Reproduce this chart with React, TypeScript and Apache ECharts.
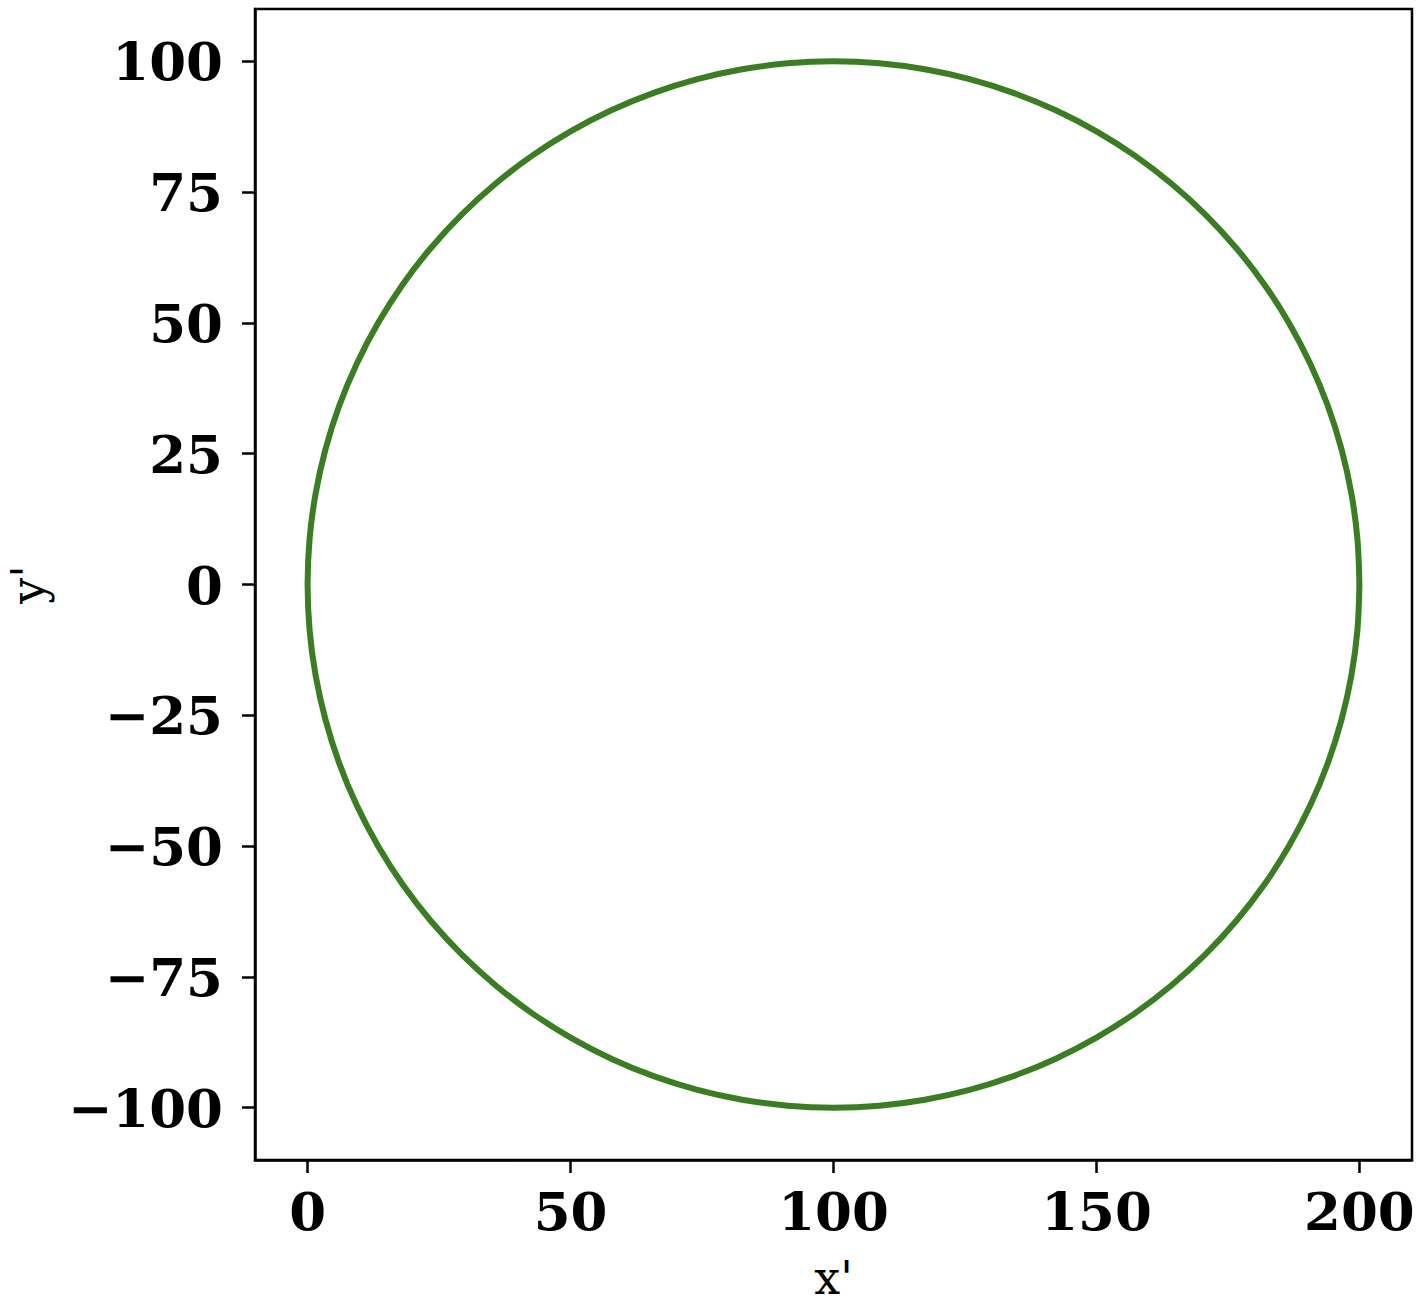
import React, { useEffect, useRef } from "react";
import * as echarts from "echarts";

// Circle trace points (x', y'), 5° apart, counter-clockwise from (200, 0)
const xPrime = [
  200, 199.62, 198.48, 196.59, 193.97, 190.63, 186.6, 181.92, 176.6, 170.71,
  164.28, 157.36, 150, 142.26, 134.2, 125.88, 117.36, 108.72, 100,
  91.28, 82.64, 74.12, 65.8, 57.74, 50, 42.64, 35.72, 29.29,
  23.4, 18.08, 13.4, 9.37, 6.03, 3.41, 1.52, 0.38, 0,
  0.38, 1.52, 3.41, 6.03, 9.37, 13.4, 18.08, 23.4, 29.29,
  35.72, 42.64, 50, 57.74, 65.8, 74.12, 82.64, 91.28, 100,
  108.72, 117.36, 125.88, 134.2, 142.26, 150, 157.36, 164.28, 170.71,
  176.6, 181.92, 186.6, 190.63, 193.97, 196.59, 198.48, 199.62, 200,
];
const yPrime = [
  0, 8.72, 17.36, 25.88, 34.2, 42.26, 50, 57.36, 64.28, 70.71,
  76.6, 81.92, 86.6, 90.63, 93.97, 96.59, 98.48, 99.62, 100,
  99.62, 98.48, 96.59, 93.97, 90.63, 86.6, 81.92, 76.6, 70.71,
  64.28, 57.36, 50, 42.26, 34.2, 25.88, 17.36, 8.72, 0,
  -8.72, -17.36, -25.88, -34.2, -42.26, -50, -57.36, -64.28, -70.71,
  -76.6, -81.92, -86.6, -90.63, -93.97, -96.59, -98.48, -99.62, -100,
  -99.62, -98.48, -96.59, -93.97, -90.63, -86.6, -81.92, -76.6, -70.71,
  -64.28, -57.36, -50, -42.26, -34.2, -25.88, -17.36, -8.72, 0,
];

const xTicks = [0, 50, 100, 150, 200];
const yTicks = [-100, -75, -50, -25, 0, 25, 50, 75, 100];
const xName = "x'";
const yName = "y'";

const fmt = (v: number) => (v < 0 ? "\u2212" + Math.abs(v) : String(v));

export default function App() {
  const ref = useRef<HTMLDivElement>(null);
  useEffect(() => {
    const chart = echarts.init(ref.current!, null, { renderer: "svg" });
    const data = xPrime.map((x, i) => [x, yPrime[i]]);
    const labelStyle = {
      color: "#000",
      fontFamily: "DejaVu Serif",
      fontWeight: "bold" as const,
      fontSize: 53,
    };
    chart.setOption({
      animation: false,
      grid: {
        left: 255,
        right: 10,
        top: 9,
        bottom: 146,
        containLabel: false,
        outerBoundsMode: "none",
        show: true,
        borderColor: "#000",
        borderWidth: 2.5,
        backgroundColor: "transparent",
      },
      xAxis: {
        type: "value",
        min: -10,
        max: 210,
        interval: 50,
        name: xName,
        nameLocation: "middle",
        nameGap: 95,
        nameTextStyle: { color: "#000", fontFamily: "DejaVu Serif", fontSize: 46 },
        axisLine: { show: true, onZero: false, lineStyle: { color: "#000", width: 2.5 } },
        axisTick: { show: true, length: 13, lineStyle: { color: "#000", width: 2.5 }, customValues: xTicks },
        axisLabel: { ...labelStyle, margin: 24, customValues: xTicks, formatter: fmt },
        splitLine: { show: false },
      },
      yAxis: {
        type: "value",
        min: -110,
        max: 110,
        name: yName,
        nameLocation: "middle",
        nameGap: 204,
        nameTextStyle: { color: "#000", fontFamily: "DejaVu Serif", fontSize: 46 },
        axisLine: { show: true, onZero: false, lineStyle: { color: "#000", width: 2.5 } },
        axisTick: { show: true, length: 13, lineStyle: { color: "#000", width: 2.5 }, customValues: yTicks },
        axisLabel: { ...labelStyle, margin: 32, customValues: yTicks, formatter: fmt },
        splitLine: { show: false },
      },
      series: [
        {
          type: "line",
          data,
          showSymbol: false,
          symbol: "none",
          smooth: 0.35,
          lineStyle: { color: "#3a7d22", width: 6 },
        },
      ],
    });
    return () => chart.dispose();
  }, []);
  return (
    <div
      ref={ref}
      style={{ position: "fixed", left: 0, top: 0, width: 1422, height: 1306, background: "#fff" }}
    />
  );
}
